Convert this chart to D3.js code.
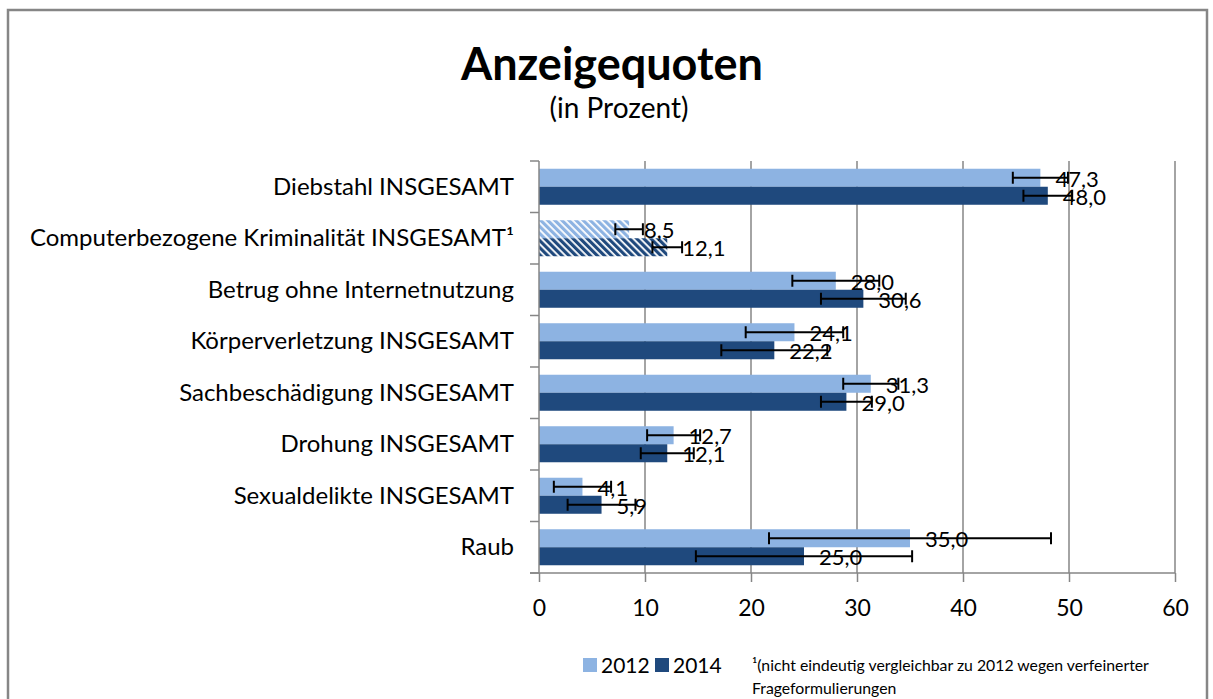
<!DOCTYPE html>
<html>
<head>
<meta charset="utf-8">
<script src="https://d3js.org/d3.v7.min.js"></script>
<style>
  body { margin: 0; background: #fff; }
  text { font-family: Lato, "Open Sans", sans-serif; fill: #000; }
</style>
</head>
<body>
<div id="plothere"></div>
<script>
// data
var categories = ["Diebstahl INSGESAMT", "Computerbezogene Kriminalität INSGESAMT¹", "Betrug ohne Internetnutzung",
  "Körperverletzung INSGESAMT", "Sachbeschädigung INSGESAMT", "Drohung INSGESAMT", "Sexualdelikte INSGESAMT", "Raub"];
var years = ["2012", "2014"];
var values2012 = [47.3, 8.5, 28.0, 24.1, 31.3, 12.7, 4.1, 35.0];
var values2014 = [48.0, 12.1, 30.6, 22.2, 29.0, 12.1, 5.9, 25.0];
var err2012 = [2.6, 1.3, 4.1, 4.6, 2.6, 2.5, 2.7, 13.3];
var err2014 = [2.3, 1.4, 4.0, 5.0, 2.4, 2.5, 3.2, 10.2];
var hatched = ["Computerbezogene Kriminalität INSGESAMT¹"];
var xTicks = [0, 10, 20, 30, 40, 50, 60];
var footnote = ["¹(nicht eindeutig vergleichbar zu 2012 wegen verfeinerter", "Frageformulierungen"];

var colors = { "2012": "#8db3e2", "2014": "#1f497d" };

function fmt(v) { return v.toFixed(1).replace(".", ","); }

function Plot() {
  var W = 1213, H = 699;
  var margin = { top: 161, left: 539, right: 38, bottom: 126 };
  var svg = d3.select("#plothere").append("svg")
    .attr("width", W).attr("height", H);

  var defs = svg.append("defs");
  years.forEach(function (yr) {
    var p = defs.append("pattern")
      .attr("id", "hatch" + yr)
      .attr("patternUnits", "userSpaceOnUse")
      .attr("width", 5).attr("height", 5)
      .attr("patternTransform", "rotate(-45)");
    p.append("rect").attr("width", 5).attr("height", 5).attr("fill", "#fff");
    p.append("rect").attr("width", 3.2).attr("height", 5).attr("fill", colors[yr]);
  });

  // frame
  svg.append("rect")
    .attr("x", 8).attr("y", 10).attr("width", 1199).attr("height", 720)
    .attr("fill", "none").attr("stroke", "#868686").attr("stroke-width", 2.5);

  svg.append("text").attr("x", 612).attr("y", 80)
    .attr("text-anchor", "middle").style("font-weight", "bold").style("font-size", "45px")
    .text("Anzeigequoten");
  svg.append("text").attr("x", 619).attr("y", 118)
    .attr("text-anchor", "middle").style("font-size", "28px")
    .text("(in Prozent)");

  var x = d3.scaleLinear().domain([0, 60]).range([margin.left, W - margin.right]);
  var y = d3.scaleBand().domain(categories).range([margin.top, H - margin.bottom]);
  var yy = d3.scaleBand().domain(years).range([0, y.bandwidth()]).paddingOuter(0.43);

  // gridlines
  svg.append("g").selectAll("line.grid")
    .data(xTicks.slice(1))
    .enter().append("line")
    .attr("x1", function (d) { return x(d); }).attr("x2", function (d) { return x(d); })
    .attr("y1", margin.top).attr("y2", H - margin.bottom)
    .attr("stroke", "#868686").attr("stroke-width", 1.5);

  var rows = [];
  categories.forEach(function (c, i) {
    rows.push({ cat: c, year: "2012", v: values2012[i], e: err2012[i] });
    rows.push({ cat: c, year: "2014", v: values2014[i], e: err2014[i] });
  });

  svg.append("g").selectAll("rect")
    .data(rows).enter().append("rect")
    .attr("x", x(0))
    .attr("y", function (d) { return y(d.cat) + yy(d.year); })
    .attr("width", function (d) { return x(d.v) - x(0); })
    .attr("height", yy.bandwidth())
    .attr("fill", function (d) { return hatched.indexOf(d.cat) >= 0 ? "url(#hatch" + d.year + ")" : colors[d.year]; });

  // error bars
  var eb = svg.append("g").selectAll("g").data(rows).enter().append("g")
    .attr("transform", function (d) { return "translate(0," + (y(d.cat) + yy(d.year) + yy.bandwidth() / 2) + ")"; });
  eb.append("line")
    .attr("x1", function (d) { return x(d.v - d.e); }).attr("x2", function (d) { return x(d.v + d.e); })
    .attr("stroke", "#000").attr("stroke-width", 2);
  eb.append("line")
    .attr("x1", function (d) { return x(d.v - d.e); }).attr("x2", function (d) { return x(d.v - d.e); })
    .attr("y1", -6).attr("y2", 6).attr("stroke", "#000").attr("stroke-width", 2);
  eb.append("line")
    .attr("x1", function (d) { return x(d.v + d.e); }).attr("x2", function (d) { return x(d.v + d.e); })
    .attr("y1", -6).attr("y2", 6).attr("stroke", "#000").attr("stroke-width", 2);

  // value labels
  eb.append("text")
    .attr("x", function (d) { return x(d.v) + 15; })
    .attr("y", 9)
    .style("font-size", "22px")
    .text(function (d) { return fmt(d.v); });

  // axes
  var xAxis = svg.append("g")
    .attr("transform", "translate(0," + (H - margin.bottom) + ")")
    .call(d3.axisBottom(x).tickValues(xTicks).tickSize(9).tickPadding(18));
  xAxis.select(".domain").attr("stroke", "#868686").attr("stroke-width", 1.5)
    .attr("d", "M" + (x(0) - 9) + ",0H" + x(60));
  xAxis.selectAll(".tick line").attr("stroke", "#868686").attr("stroke-width", 1.5);
  xAxis.selectAll(".tick text").style("font-size", "23px").style("font-family", "Lato");

  var bounds = categories.map(function (c) { return y(c); }).concat([H - margin.bottom]);
  svg.append("g").selectAll("line.ytick")
    .data(bounds).enter().append("line")
    .attr("x1", x(0) - 9).attr("x2", x(0))
    .attr("y1", function (d) { return d; }).attr("y2", function (d) { return d; })
    .attr("stroke", "#868686").attr("stroke-width", 1.5);
  svg.append("line")
    .attr("x1", x(0)).attr("x2", x(0)).attr("y1", margin.top).attr("y2", H - margin.bottom)
    .attr("stroke", "#868686").attr("stroke-width", 1.5);

  svg.append("g").selectAll("text.cat")
    .data(categories).enter().append("text")
    .attr("x", 514)
    .attr("y", function (d) { return y(d) + y.bandwidth() / 2 + 8; })
    .attr("text-anchor", "end")
    .style("font-size", "24px")
    .text(function (d) { return d; });

  // legend
  var lg = svg.append("g").selectAll("g").data(years).enter().append("g")
    .attr("transform", function (d, i) { return "translate(" + (583 + i * 72) + ",658)"; });
  lg.append("rect").attr("width", 14).attr("height", 14).attr("fill", function (d) { return colors[d]; });
  lg.append("text").attr("x", 18).attr("y", 15).style("font-size", "21px").text(function (d) { return d; });

  svg.append("g").selectAll("text.fn")
    .data(footnote).enter().append("text")
    .attr("x", 752)
    .attr("y", function (d, i) { return 671 + i * 23; })
    .style("font-size", "15.8px")
    .text(function (d) { return d; });
}

Plot();
</script>
</body>
</html>
